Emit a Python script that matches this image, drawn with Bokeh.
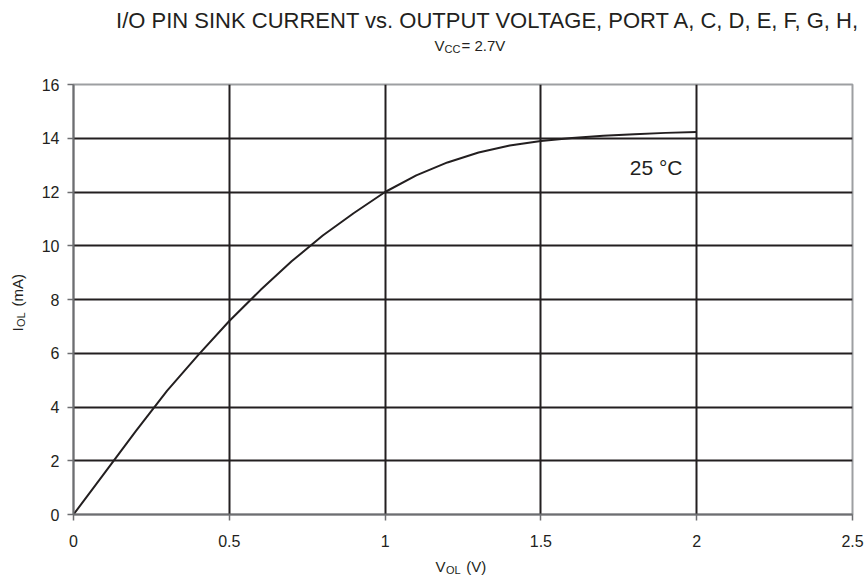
from math import pi
from bokeh.plotting import figure
from bokeh.models import Range1d, FixedTicker, Label
from bokeh.embed import file_html
from bokeh.resources import INLINE

# ---- data ----
v_ol = [0.0, 0.1, 0.2, 0.3, 0.4, 0.5, 0.6, 0.7, 0.8, 0.9, 1.0,
        1.1, 1.2, 1.3, 1.4, 1.5, 1.6, 1.7, 1.8, 1.9, 2.0]
i_ol = [0.0, 1.55, 3.1, 4.6, 5.93, 7.2, 8.35, 9.42, 10.38, 11.22, 12.0,
        12.62, 13.1, 13.47, 13.73, 13.9, 14.01, 14.09, 14.15, 14.2, 14.23]
x_ticks = [0, 0.5, 1, 1.5, 2, 2.5]
x_tick_labels = ["0", "0.5", "1", "1.5", "2", "2.5"]
y_ticks = [0, 2, 4, 6, 8, 10, 12, 14, 16]
y_tick_labels = ["0", "2", "4", "6", "8", "10", "12", "14", "16"]
x_grid = [0.5, 1, 1.5, 2]
y_grid = [2, 4, 6, 8, 10, 12, 14]
curve_label = "25 °C"
title_text = "I/O PIN SINK CURRENT vs. OUTPUT VOLTAGE, PORT A, C, D, E, F, G, H,"

INK = "#231f20"
FONT = "Liberation Sans"
NB = "\u00a0"  # non-collapsing space, leaves room for the subscripts

W, H = 864, 588
LEFT, RIGHT, TOP, BOTTOM = 73, 12, 84, 74

p = figure(width=W, height=H, output_backend="svg", toolbar_location=None,
           x_range=Range1d(0, 2.5), y_range=Range1d(0, 16),
           min_border_left=LEFT, min_border_right=RIGHT,
           min_border_top=TOP, min_border_bottom=BOTTOM)
p.background_fill_color = "white"
p.border_fill_color = "white"
p.outline_line_color = "#9d9fa2"
p.outline_line_width = 2

for ax, ticks, labels in ((p.xaxis[0], x_ticks, x_tick_labels), (p.yaxis[0], y_ticks, y_tick_labels)):
    ax.ticker = FixedTicker(ticks=ticks, minor_ticks=[])
    ax.major_label_overrides = {t: l for t, l in zip(ticks, labels)}
    ax.axis_line_color = "#6d6e71"
    ax.axis_line_width = 2
    ax.major_tick_line_color = "#6d6e71"
    ax.major_tick_line_width = 1.5
    ax.major_tick_out = 6
    ax.major_tick_in = 0
    ax.minor_tick_line_color = None
    ax.major_label_text_font = FONT
    ax.major_label_text_font_size = "16px"
    ax.major_label_text_color = INK
p.xaxis[0].major_label_standoff = 14
p.yaxis[0].major_label_standoff = 8

p.xgrid.ticker = FixedTicker(ticks=x_grid, minor_ticks=[])
p.ygrid.ticker = FixedTicker(ticks=y_grid, minor_ticks=[])
for g in (p.xgrid[0], p.ygrid[0]):
    g.grid_line_color = INK
    g.grid_line_width = 2

p.line(v_ol, i_ol, line_color=INK, line_width=2)


def lab(text, px, py, size, align="left", angle=0.0, place="center"):
    # px, py: canvas pixels from the top-left corner
    p.add_layout(Label(x=px, y=py, x_units="canvas", y_units="canvas", text=text,
                       text_font=FONT, text_font_size=size, text_color=INK,
                       text_align=align, text_baseline="alphabetic", angle=angle), place)

# title and subtitle
lab(title_text, 860, 20, "22px", align="right", place="above")
lab("V", 434, 45, "15px", place="above")
lab("CC", 444, 48, "11px", place="above")
lab("= 2.7V", 461, 45, "15px", place="above")

# x axis label
lab("V" + NB * 5 + "(V)", 435, 566, "15px", place="below")
lab("OL", 445.5, 569, "11px", place="below")

# y axis label (rotated)
lab("I" + NB * 5 + "(mA)", 17, 331, "15px", angle=pi / 2, place="left")
lab("OL", 20, 326.5, "11px", angle=pi / 2, place="left")

# curve label
lab(curve_label, 682, 167, "21px", align="right")

open("out.html", "w").write(file_html(p, INLINE))
